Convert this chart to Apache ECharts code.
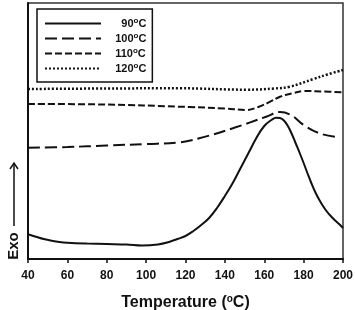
<!DOCTYPE html>
<html>
<head>
<meta charset="utf-8">
<script src="https://cdn.jsdelivr.net/npm/echarts@6/dist/echarts.min.js"></script>
<style>
  html, body { margin: 0; padding: 0; background: #fff; }
  #chart { width: 355px; height: 310px; }
</style>
</head>
<body>
<div id="chart"></div>
<script>
// DSC traces, heat flow in arbitrary units
const xTicks = [40, 60, 80, 100, 120, 140, 160, 180, 200];

const t90 = [40, 44, 48, 52, 56, 60, 70, 80, 90, 98, 106, 112, 116, 120, 124, 128, 132, 136, 140, 144, 148, 152, 156, 160, 164, 166, 168, 170, 172, 174, 176, 178, 180, 182, 184, 186, 188, 190, 192, 194, 196, 198, 200];
const v90 = [24.7, 22.3, 20, 18.3, 17, 16.3, 15.5, 15, 14.5, 13.5, 14.6, 17.3, 20, 23, 28, 34, 41, 51, 63, 76, 91, 106, 121, 133, 139.5, 141.3, 141, 138.5, 133, 125, 115.5, 106, 96, 85.5, 75.5, 66.5, 59, 52.5, 47, 42.5, 38.5, 35, 31];

const t100 = [40, 60, 80, 100, 117, 127, 144, 161, 168, 174, 180, 188, 197.5];
const v100 = [111.3, 112, 113.5, 115, 116.7, 120.7, 130.7, 142.3, 147, 143.5, 134, 125.7, 121.7];

const t110 = [40, 80, 117, 122, 140, 151, 157, 163, 168, 174, 180, 190, 200];
const v110 = [155, 154.5, 152.3, 152, 150.5, 149, 152, 157.3, 162.3, 165.5, 168, 167.5, 166.7];

const t120 = [40, 80, 117, 151, 165, 173, 185, 192, 200];
const v120 = [170, 170.5, 170.7, 169.3, 170.5, 172.3, 180, 184.5, 189];

const names = ['90', '100', '110', '120'];

function pairs (xs, ys) {
    return xs.map((x, i) => [x, ys[i]]);
}

function series (name, xs, ys, dash, width) {
    return {
        name: name,
        type: 'line',
        data: pairs(xs, ys),
        smooth: 0.4,
        symbol: 'none',
        lineStyle: {
            color: '#111',
            width: width || 2,
            type: dash
        },
        itemStyle: { color: '#111' }
    };
}

const chart = echarts.init(document.getElementById('chart'));
chart.setOption({
    animation: false,
    grid: {
        left: 28,
        right: 12,
        top: 3,
        bottom: 51,
        outerBoundsMode: 'none',
        show: true,
        borderColor: '#333',
        borderWidth: 1.5
    },
    legend: {
        left: 37,
        top: 9,
        orient: 'vertical',
        data: names,
        itemWidth: 56,
        itemHeight: 10,
        itemGap: 3,
        padding: [8, 6, 8, 7],
        borderColor: '#111',
        borderWidth: 1.5,
        borderRadius: 0,
        itemStyle: { opacity: 0 },
        formatter: name => (name.length < 3 ? '     ' : '   ') + name + '{sup|o}C',
        textStyle: {
            color: '#111',
            fontFamily: 'Liberation Sans, Arial, sans-serif',
            fontWeight: 'bold',
            fontSize: 11,
            rich: {
                sup: { fontSize: 8, fontWeight: 'bold', verticalAlign: 'top', padding: [0, 0, 5, 0] }
            }
        }
    },
    xAxis: {
        type: 'value',
        min: 40,
        max: 200,
        interval: 20,
        name: 'Temperature ({sup|o}C)',
        nameLocation: 'middle',
        nameGap: 35,
        nameTextStyle: {
            color: '#111',
            fontFamily: 'Liberation Sans, Arial, sans-serif',
            fontWeight: 'bold',
            fontSize: 16,
            rich: {
                sup: { fontSize: 10, fontWeight: 'bold', verticalAlign: 'top', padding: [0, 0, 7, 0] }
            }
        },
        axisLine: { lineStyle: { color: '#111', width: 2 } },
        axisTick: { length: 4, lineStyle: { color: '#111', width: 1.5 } },
        axisLabel: {
            color: '#111',
            fontFamily: 'Liberation Sans, Arial, sans-serif',
            fontWeight: 'bold',
            fontSize: 12,
            margin: 11
        },
        splitLine: { show: false }
    },
    yAxis: {
        type: 'value',
        min: 0,
        max: 256,
        axisLine: { show: true, lineStyle: { color: '#111', width: 2 } },
        axisTick: { show: false },
        axisLabel: { show: false },
        splitLine: { show: false }
    },
    graphic: [
        {
            type: 'text',
            x: 14,
            y: 246,
            rotation: Math.PI / 2,
            style: {
                text: 'Exo',
                fill: '#111',
                font: 'bold 15px "Liberation Sans", Arial, sans-serif',
                align: 'center',
                verticalAlign: 'middle'
            }
        },
        {
            type: 'line',
            shape: { x1: 14, y1: 226, x2: 14, y2: 164 },
            style: { stroke: '#111', lineWidth: 1.5 }
        },
        {
            type: 'polyline',
            shape: { points: [[10, 169], [14, 163], [18, 169]] },
            style: { stroke: '#111', lineWidth: 1.5, fill: null }
        }
    ],
    series: [
        series('90', t90, v90, 'solid'),
        series('100', t100, v100, [12, 5]),
        series('110', t110, v110, [7, 3]),
        series('120', t120, v120, [2, 2], 2.5)
    ]
});
</script>
</body>
</html>
